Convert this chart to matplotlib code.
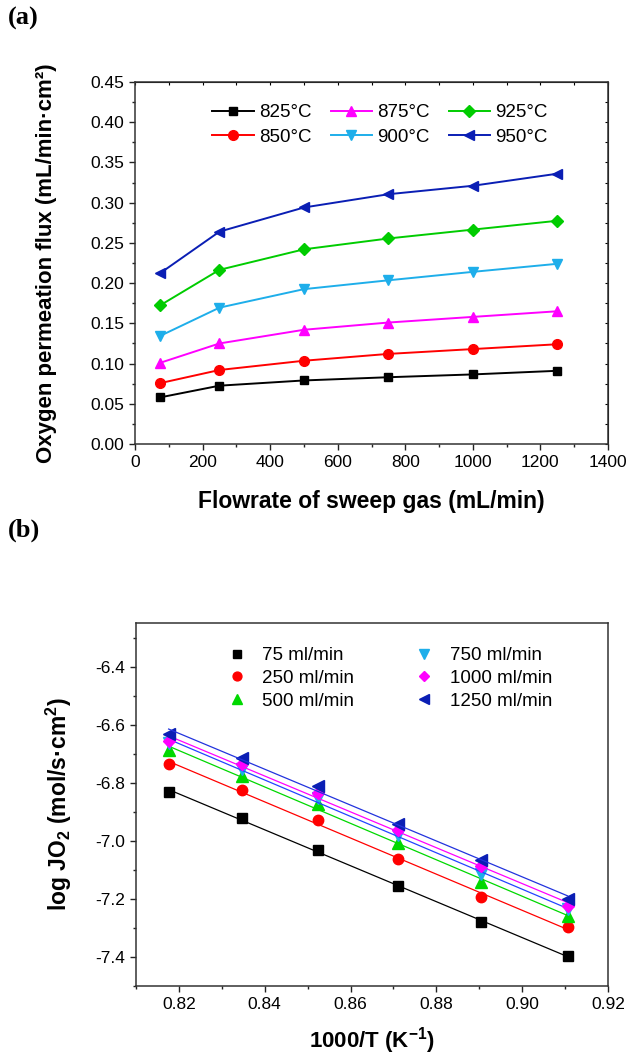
import numpy as np
import matplotlib
matplotlib.use("Agg")
import matplotlib.pyplot as plt
from matplotlib.ticker import MultipleLocator, FormatStrFormatter
from matplotlib.lines import Line2D

plt.rcParams['font.family'] = ['Liberation Sans', 'DejaVu Sans']
plt.rcParams['axes.unicode_minus'] = False
plt.rcParams['mathtext.fontset'] = 'custom'
plt.rcParams['mathtext.rm'] = 'Liberation Sans'
plt.rcParams['mathtext.bf'] = 'Liberation Sans:bold'
plt.rcParams['mathtext.it'] = 'Liberation Sans:italic'

# ---------------- data (a) ----------------
flowrates = [75, 250, 500, 750, 1000, 1250]
temps_a = ['825°C', '850°C', '875°C', '900°C', '925°C', '950°C']
flux_825 = [0.058, 0.0725, 0.079, 0.083, 0.0865, 0.091]
flux_850 = [0.0757, 0.092, 0.1035, 0.112, 0.118, 0.124]
flux_875 = [0.101, 0.125, 0.142, 0.151, 0.158, 0.165]
flux_900 = [0.1345, 0.1695, 0.1925, 0.2035, 0.214, 0.224]
flux_925 = [0.1725, 0.2165, 0.242, 0.2555, 0.2665, 0.2775]
flux_950 = [0.2125, 0.264, 0.294, 0.3105, 0.321, 0.336]

# ---------------- data (b) ----------------
inv_T = [0.8176, 0.8346, 0.8524, 0.8710, 0.8904, 0.9106]
labels_b = ['75 ml/min', '250 ml/min', '500 ml/min', '750 ml/min', '1000 ml/min', '1250 ml/min']
logJ_75 = [-6.832, -6.922, -7.030, -7.157, -7.280, -7.397]
logJ_250 = [-6.737, -6.824, -6.929, -7.064, -7.194, -7.298]
logJ_500 = [-6.688, -6.776, -6.874, -7.007, -7.141, -7.258]
logJ_750 = [-6.664, -6.752, -6.853, -6.980, -7.115, -7.236]
logJ_1000 = [-6.658, -6.737, -6.835, -6.963, -7.088, -7.224]
logJ_1250 = [-6.633, -6.715, -6.810, -6.942, -7.066, -7.199]

W, H = 632, 1059
fig = plt.figure(figsize=(W / 100, H / 100), dpi=100)

# ---------------- panel (a) ----------------
ax1 = fig.add_axes([135 / W, 1 - 444 / H, (608 - 135) / W, (444 - 82) / H])
series_a = [flux_825, flux_850, flux_875, flux_900, flux_925, flux_950]
colors_a = ['#000000', '#FF0000', '#FF00FF', '#1EAEEA', '#00CC00', '#0A1EB4']
markers_a = ['s', 'o', '^', 'v', 'D', '<']
msizes_a = [6, 7, 7.5, 7.5, 6, 7.5]
for y, c, m, ms, lab in zip(series_a, colors_a, markers_a, msizes_a, temps_a):
    ax1.plot(flowrates, y, color=c, marker=m, markersize=ms, lw=1.4,
             markeredgecolor=c, markerfacecolor=c, label=lab)
ax1.set_xlim(0, 1400)
ax1.set_ylim(0, 0.45)
ax1.xaxis.set_major_locator(MultipleLocator(200))
ax1.xaxis.set_minor_locator(MultipleLocator(100))
ax1.yaxis.set_major_locator(MultipleLocator(0.05))
ax1.yaxis.set_minor_locator(MultipleLocator(0.025))
ax1.yaxis.set_major_formatter(FormatStrFormatter('%.2f'))
ax1.tick_params(which='both', direction='out', labelsize=12.5, width=1, colors='#222222', labelcolor='black')
ax1.tick_params(which='major', length=4.5)
ax1.tick_params(which='minor', length=2.5)
for s in ax1.spines.values():
    s.set_linewidth(1.1)
    s.set_color('#333333')
secx = ax1.secondary_xaxis('top')
secx.xaxis.set_major_locator(MultipleLocator(100))
secx.tick_params(direction='in', length=2.5, labeltop=False, width=0.8)
secy = ax1.secondary_yaxis('right')
secy.yaxis.set_major_locator(MultipleLocator(0.025))
secy.tick_params(direction='in', length=2.5, labelright=False, width=0.8)
ax1.set_xlabel('Flowrate of sweep gas (mL/min)', fontsize=16.5, fontweight='bold', labelpad=14)
ax1.set_ylabel('Oxygen permeation flux (mL/min·cm²)', fontsize=16, fontweight='bold', labelpad=24)
ax1.legend(loc='upper left', bbox_to_anchor=(0.14, 0.97), ncol=3, frameon=False,
           fontsize=13.5, handlelength=2.2, handletextpad=0.3, columnspacing=1.0,
           labelspacing=0.4, borderaxespad=0.2)

# ---------------- panel (b) ----------------
ax2 = fig.add_axes([136 / W, 1 - 986 / H, (608 - 136) / W, (986 - 623) / H])
series_b = [logJ_75, logJ_250, logJ_500, logJ_750, logJ_1000, logJ_1250]
colors_b = ['#000000', '#FF0000', '#00D800', '#1EAEEA', '#FF00FF', '#0A1EB4']
line_colors_b = ['#000000', '#FF0000', '#00D800', '#2244FF', '#FF00FF', '#2233DD']
markers_b = ['s', 'o', '^', 'v', 'D', '<']
msizes_b = [6.5, 7.5, 8, 8, 6.5, 8]
handles = []
xs = np.array(inv_T)
for y, c, lc, m, ms, lab in zip(series_b, colors_b, line_colors_b, markers_b, msizes_b, labels_b):
    ax2.plot(inv_T, y, ls='none', marker=m, markersize=ms, color=c, markeredgecolor=c)
    k, b = np.polyfit(xs, np.array(y), 1)
    ax2.plot([xs[0], xs[-1]], [k * xs[0] + b, k * xs[-1] + b], color=lc, lw=0.9)
    handles.append(Line2D([], [], ls='none', marker=m, markersize=ms * 0.85, color=c, label=lab))
ax2.set_xlim(0.81, 0.92)
ax2.set_ylim(-7.5, -6.25)
ax2.xaxis.set_major_locator(MultipleLocator(0.02))
ax2.xaxis.set_minor_locator(MultipleLocator(0.01))
ax2.xaxis.set_major_formatter(FormatStrFormatter('%.2f'))
ax2.yaxis.set_major_locator(MultipleLocator(0.2))
ax2.yaxis.set_minor_locator(MultipleLocator(0.1))
ax2.yaxis.set_major_formatter(FormatStrFormatter('%.1f'))
ax2.tick_params(which='both', direction='out', labelsize=12.5, width=1, colors='#222222', labelcolor='black')
ax2.tick_params(which='major', length=4.5)
ax2.tick_params(which='minor', length=2.5)
for s in ax2.spines.values():
    s.set_linewidth(1.1)
    s.set_color('#333333')
ax2.set_xlabel('1000/T (K$^{\\mathbf{-1}}$)', fontsize=16, fontweight='bold', labelpad=9)
ax2.set_ylabel('log JO$_{\\mathbf{2}}$ (mol/s·cm$^{\\mathbf{2}}$)', fontsize=16.5, fontweight='bold', labelpad=15)
ax2.legend(handles=handles, loc='upper left', bbox_to_anchor=(0.16, 0.965), ncol=2, frameon=False,
           fontsize=13.5, handlelength=1.5, handletextpad=0.6, columnspacing=3.0,
           labelspacing=0.3, borderaxespad=0.2)

# panel labels
fig.text(8 / W, 1 - 18 / H, '(a)', family=['Liberation Serif', 'DejaVu Serif'], fontsize=19,
         fontweight='bold', va='center', ha='left')
fig.text(8 / W, 1 - 530 / H, '(b)', family=['Liberation Serif', 'DejaVu Serif'], fontsize=19,
         fontweight='bold', va='center', ha='left')

fig.savefig('out.png', dpi=100)
